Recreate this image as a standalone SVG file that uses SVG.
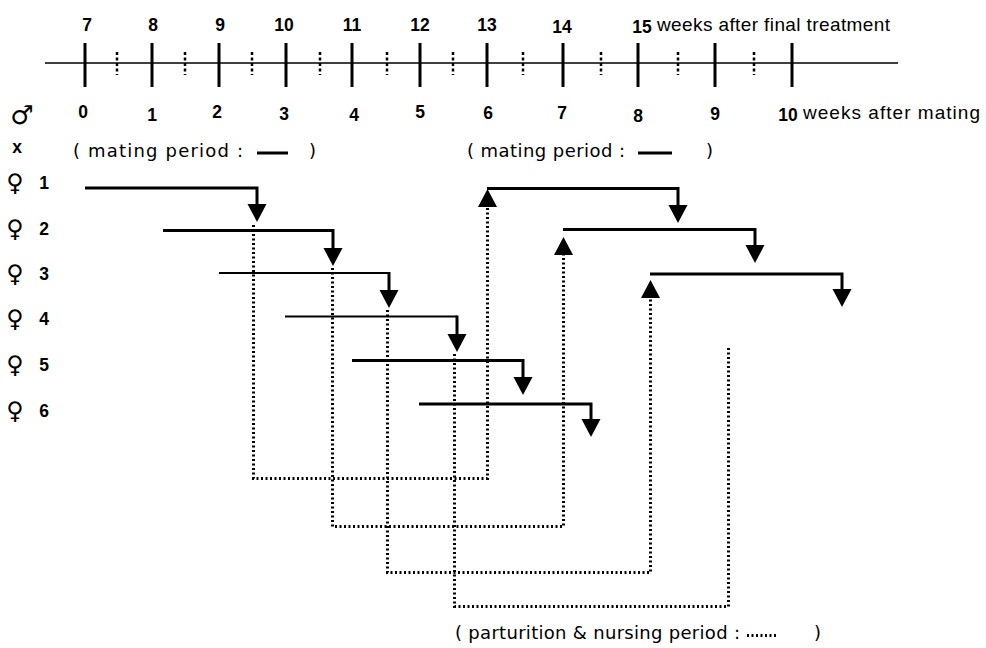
<svg xmlns="http://www.w3.org/2000/svg" width="986" height="648" viewBox="0 0 986 648">
<defs>
<style>
.num{font-family:"Liberation Sans",Arial,sans-serif;font-weight:bold;font-size:17.5px;text-anchor:middle;fill:#000}
.lbl{font-family:"Liberation Sans",Arial,sans-serif;font-size:19px;fill:#000}
.leg{font-family:"DejaVu Sans","Liberation Sans",sans-serif;font-size:18px;fill:#000}
.sym{font-family:"DejaVu Sans",sans-serif;font-weight:bold;fill:#000;text-anchor:middle}
.axis{stroke:#000;stroke-width:1.5;fill:none}
.major{stroke:#000;stroke-width:3;fill:none}
.minor{stroke:#000;stroke-width:2.5;stroke-dasharray:3 2.5;fill:none}
.thick{stroke:#000;stroke-width:3;fill:none}
.thin{stroke:#000;stroke-width:1.8;fill:none}
.dot{stroke:#000;stroke-width:3;stroke-dasharray:2 2.5;fill:none}
</style>
<marker id="ah" markerUnits="userSpaceOnUse" markerWidth="20" markerHeight="20" viewBox="0 0 20 20" refX="14" refY="10" orient="auto">
<path d="M0,0.5 L18,10 L0,19.5 Z" fill="#000"/>
</marker>
</defs>
<rect width="986" height="648" fill="#fff"/>

<g id="axis">
<line class="axis" x1="45" y1="63" x2="898" y2="63"/>
<path class="major" d="M85,43V87M152,43V87M219,43V87M286,43V87M352,43V87M420,43V87M487,43V87M563,43V87M638,43V87M715,43V87M792,43V87"/>
<path class="minor" d="M117,52V75M185,52V75M252,52V75M320,52V75M387,52V75M453,52V75M523,52V75M601,52V75M678,52V75M754,52V75"/>
<g id="weeks-after-treatment">
<text class="num" x="87" y="31">7</text>
<text class="num" x="153" y="31">8</text>
<text class="num" x="220" y="31">9</text>
<text class="num" x="284" y="31">10</text>
<text class="num" x="352" y="31">11</text>
<text class="num" x="420" y="31">12</text>
<text class="num" x="487" y="31">13</text>
<text class="num" x="562" y="33">14</text>
<text class="num" x="642" y="33">15</text>
<text class="lbl" x="657" y="31" textLength="233">weeks after final treatment</text>
</g>
<g id="weeks-after-mating">
<text class="num" x="83" y="118">0</text>
<text class="num" x="152" y="121">1</text>
<text class="num" x="217" y="118">2</text>
<text class="num" x="284" y="120">3</text>
<text class="num" x="354" y="121">4</text>
<text class="num" x="420" y="118">5</text>
<text class="num" x="488" y="119">6</text>
<text class="num" x="562" y="119">7</text>
<text class="num" x="638" y="122">8</text>
<text class="num" x="715" y="120">9</text>
<text class="num" x="788" y="121">10</text>
<text class="lbl" x="803" y="119" textLength="177">weeks after mating</text>
</g>
</g>

<g id="male">
<text class="sym" x="22" y="124" font-size="26">♂</text>
<text class="num" x="17" y="153" font-size="16">x</text>
</g>
<g id="female-1"><text class="sym" x="15" y="191" font-size="24">♀</text><text class="num" x="44" y="189">1</text></g>
<g id="female-2"><text class="sym" x="15" y="237" font-size="24">♀</text><text class="num" x="44" y="235">2</text></g>
<g id="female-3"><text class="sym" x="15" y="282" font-size="24">♀</text><text class="num" x="44" y="280">3</text></g>
<g id="female-4"><text class="sym" x="15" y="327" font-size="24">♀</text><text class="num" x="44" y="325">4</text></g>
<g id="female-5"><text class="sym" x="15" y="373" font-size="24">♀</text><text class="num" x="44" y="371">5</text></g>
<g id="female-6"><text class="sym" x="15" y="419" font-size="24">♀</text><text class="num" x="44" y="417">6</text></g>

<g id="legend-mating-1">
<text class="leg" x="73" y="157" textLength="170">( mating period :</text>
<line class="thick" x1="257" y1="153" x2="288" y2="153"/>
<text class="leg" x="309" y="157">)</text>
</g>
<g id="legend-mating-2">
<text class="leg" x="467" y="157" textLength="158">( mating period :</text>
<line class="thick" x1="638" y1="153" x2="672" y2="153"/>
<text class="leg" x="706" y="157">)</text>
</g>

<g id="mating-1-1"><path class="thick" d="M85,188H257V218" marker-end="url(#ah)"/></g>
<g id="mating-1-2"><path class="thick" d="M163,230.5H333V262" marker-end="url(#ah)"/></g>
<g id="mating-1-3"><path class="thin" d="M219,273H389"/><path class="thick" d="M389,272V304" marker-end="url(#ah)"/></g>
<g id="mating-1-4"><path class="thin" d="M285,316.5H457"/><path class="thick" d="M457,315.5V348" marker-end="url(#ah)"/></g>
<g id="mating-1-5"><path class="thick" d="M352,360.5H523V391" marker-end="url(#ah)"/></g>
<g id="mating-1-6"><path class="thick" d="M419,404H591V433" marker-end="url(#ah)"/></g>

<g id="mating-2-1"><path class="thick" d="M487,188.5H678V219" marker-end="url(#ah)"/></g>
<g id="mating-2-2"><path class="thick" d="M563,229.5H755V259" marker-end="url(#ah)"/></g>
<g id="mating-2-3"><path class="thick" d="M650,274H842V303" marker-end="url(#ah)"/></g>

<g id="connectors">
<path class="dot" d="M253.5,225V478.5H487.5V193" marker-end="url(#ah)"/>
<path class="dot" d="M332.5,268V526.5H563.5V241" marker-end="url(#ah)"/>
<path class="dot" d="M387.5,310V572.5H650.5V284" marker-end="url(#ah)"/>
<path class="dot" d="M454.5,354V606.5H728.5V348"/>
</g>

<g id="legend-nursing">
<text class="leg" x="455" y="639" textLength="285">( parturition &amp; nursing period :</text>
<line class="dot" x1="747" y1="635.5" x2="777" y2="635.5"/>
<text class="leg" x="814" y="639">)</text>
</g>
</svg>
